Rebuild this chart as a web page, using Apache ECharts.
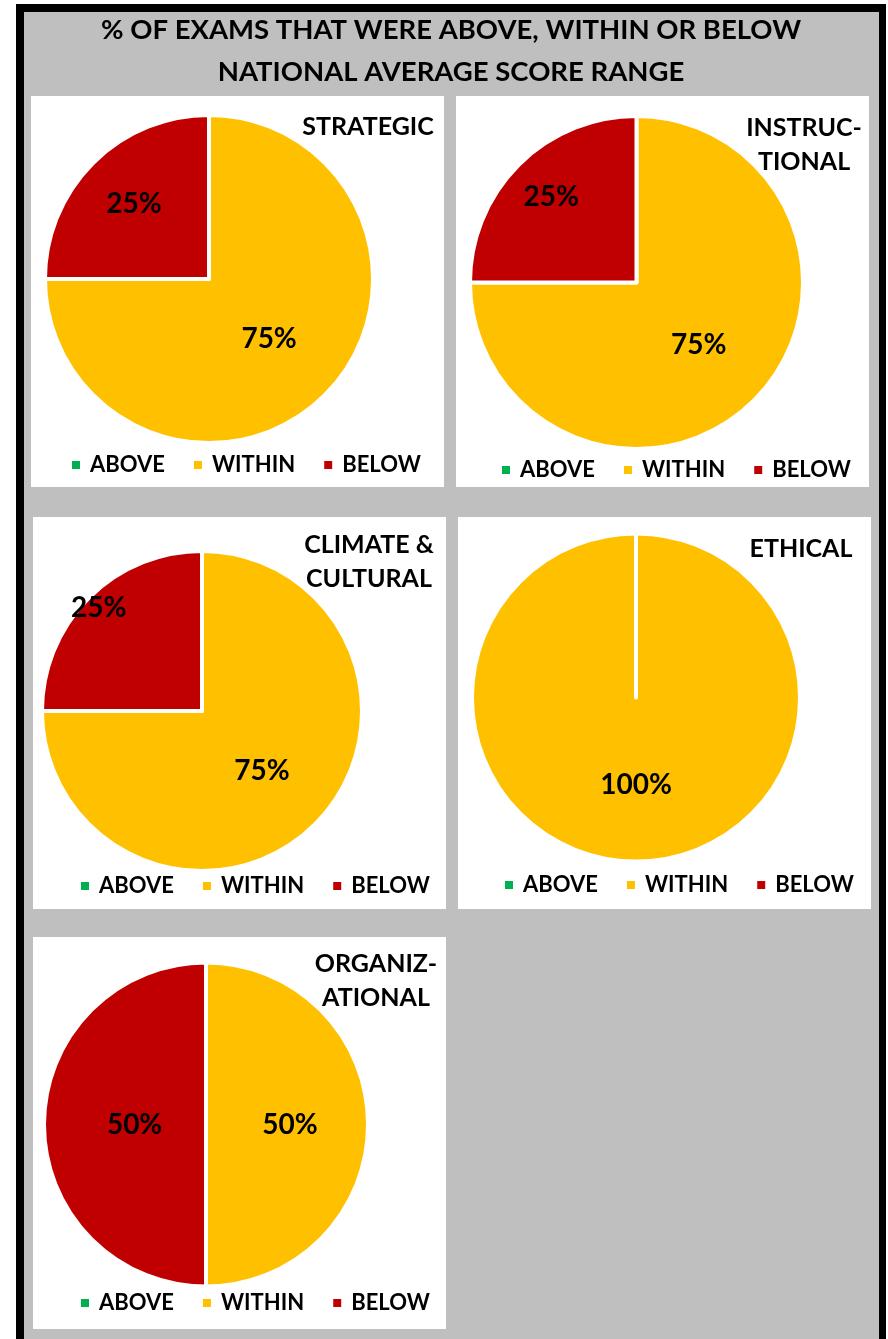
<!DOCTYPE html>
<html>
<head>
<meta charset="utf-8">
<script src="https://cdn.jsdelivr.net/npm/echarts@6/dist/echarts.min.js"></script>
<style>
  html, body { margin: 0; padding: 0; background: #fff; }
  #main { width: 888px; height: 1339px; }
</style>
</head>
<body>
<div id="main"></div>
<script>
// data
const categories = ['ABOVE', 'WITHIN', 'BELOW'];
const domains = ['STRATEGIC', 'INSTRUC-\nTIONAL', 'CLIMATE &\nCULTURAL', 'ETHICAL', 'ORGANIZ-\nATIONAL'];
const aboveValues = [0, 0, 0, 0, 0];
const withinValues = [75, 75, 75, 100, 50];
const belowValues = [25, 25, 25, 0, 50];
const chartTitle = '% OF EXAMS THAT WERE ABOVE, WITHIN OR BELOW\nNATIONAL AVERAGE SCORE RANGE';

const colors = ['#00B050', '#FFC000', '#C00000'];
const FONT = 'Lato, "Open Sans", sans-serif';

// panel layout (pixels)
const panels = [
    {x: 31,  y: 96,  w: 413, h: 391, cx: 209,   cy: 279,   r: 162,   tx: 368, ty: 127,   lx: 70,  ly: 465,  f: [1, 1.0, 1.25]},
    {x: 456, y: 96,  w: 413, h: 391, cx: 636.5, cy: 282.5, r: 164.5, tx: 804, ty: 144.5, lx: 500, ly: 470,  f: [1, 1.02, 1.4]},
    {x: 33,  y: 517, w: 413, h: 392, cx: 202,   cy: 711,   r: 158,   tx: 369, ty: 561.5, lx: 79,  ly: 886,  f: [1, 1.02, 1.76]},
    {x: 458, y: 517, w: 413, h: 392, cx: 636,   cy: 697.5, r: 162,   tx: 801, ty: 549,   lx: 503, ly: 885,  f: [1, 1.03, 1]},
    {x: 33,  y: 937, w: 413, h: 392, cx: 206,   cy: 1124.5, r: 160,  tx: 376, ty: 981,   lx: 79,  ly: 1303, f: [1, 1.0, 0.85]}
];

let chart = echarts.init(document.getElementById('main'));

let graphics = [
    {type: 'rect', shape: {x: 16, y: 4, width: 870, height: 1345}, style: {fill: '#000'}, silent: true},
    {type: 'rect', shape: {x: 24, y: 12, width: 855, height: 1340}, style: {fill: '#BFBFBF'}, silent: true}
];
panels.forEach(function (p, i) {
    graphics.push({type: 'rect', shape: {x: p.x, y: p.y, width: p.w, height: p.h}, style: {fill: '#fff'}, silent: true, z: -1});
    graphics.push({
        type: 'text', x: p.tx, y: p.ty, z: 10,
        style: {
            text: domains[i], textAlign: 'center', textVerticalAlign: 'middle',
            font: 'bold 25px ' + FONT, lineHeight: 34, fill: '#000'
        }
    });
});
graphics.forEach(function (g) { if (g.z == null) g.z = -2; });

let series = panels.map(function (p, i) {
    const vals = [aboveValues[i], withinValues[i], belowValues[i]];
    return {
        type: 'pie',
        center: [p.cx, p.cy],
        radius: [0, p.r + 2],
        startAngle: 90,
        clockwise: true,
        animation: false,
        emphasis: {disabled: true},
        itemStyle: {borderColor: '#fff', borderWidth: 4},
        label: {
            position: 'inside',
            formatter: function (d) { return d.value ? d.percent + '%' : ''; },
            fontFamily: FONT, fontWeight: 'bold', fontSize: 28, color: '#000'
        },
        labelLayout: function (params) {
            const k = p.f[params.dataIndex] - 1;
            const r = params.labelRect;
            const mx = r.x + r.width / 2, my = r.y + r.height / 2;
            return {dx: k * (mx - p.cx), dy: k * (my - p.cy)};
        },
        data: categories.map(function (c, j) {
            return {name: c, value: vals[j], itemStyle: {color: colors[j]}};
        })
    };
});

let legends = panels.map(function (p) {
    return {
        data: categories,
        left: p.lx,
        top: p.ly - 12,
        padding: 0,
        icon: 'rect',
        itemWidth: 10,
        itemHeight: 10,
        itemGap: 27,
        selectedMode: false,
        textStyle: {fontFamily: FONT, fontWeight: 'bold', fontSize: 22, color: '#000', lineHeight: 24, padding: [0, 0, 0, 4]}
    };
});

let option = {
    backgroundColor: '#fff',
    color: colors,
    title: {
        text: chartTitle,
        left: 451,
        top: 9,
        padding: 0,
        textAlign: 'center',
        textStyle: {fontFamily: FONT, fontWeight: 'bold', fontSize: 27.5, color: '#000', lineHeight: 42}
    },
    graphic: graphics,
    legend: legends,
    series: series
};
chart.setOption(option);
window.addEventListener('resize', function () {
    chart.resize();
});
</script>
</body>
</html>
